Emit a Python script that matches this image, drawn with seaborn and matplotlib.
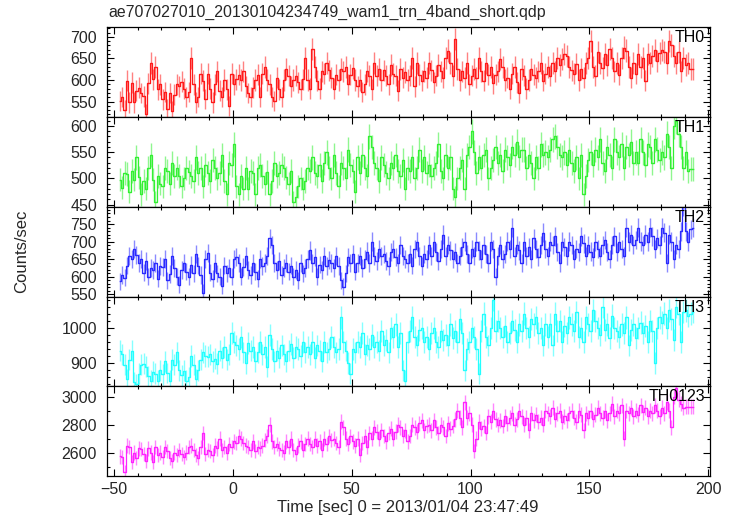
import numpy as np
import pandas as pd
import matplotlib
matplotlib.use("Agg")
import matplotlib.pyplot as plt
from matplotlib.ticker import MultipleLocator
import seaborn as sns

# ---- data (1-s bins, bin centres) ----
t_start = -47.5
n_bins = 242
time = [t_start + i for i in range(n_bins)]

th0 = [552, 560, 530, 598, 548, 594, 548, 575, 582, 570,
       562, 522, 592, 640, 602, 630, 578, 590, 555, 572,
       532, 570, 528, 566, 590, 585, 596, 580, 560, 572,
       650, 590, 548, 560, 615, 598, 556, 615, 580, 548,
       590, 620, 575, 560, 600, 578, 540, 615, 590, 602,
       612, 600, 620, 585, 570, 560, 582, 600, 612, 560,
       615, 630, 600, 590, 560, 552, 605, 578, 560, 600,
       625, 610, 585, 600, 610, 595, 578, 602, 650, 600,
       580, 672, 630, 598, 580, 620, 615, 640, 622, 605,
       580, 612, 600, 625, 620, 630, 590, 612, 628, 600,
       585, 600, 572, 590, 620, 610, 578, 640, 610, 625,
       600, 622, 610, 590, 635, 615, 610, 575, 625, 605,
       618, 600, 610, 650, 585, 640, 612, 598, 620, 605,
       640, 622, 595, 610, 635, 620, 605, 650, 668, 640,
       610, 695, 625, 600, 620, 605, 640, 590, 610, 625,
       605, 650, 620, 598, 640, 612, 630, 592, 612, 620,
       648, 630, 600, 605, 580, 615, 630, 595, 570, 625,
       610, 580, 600, 625, 612, 605, 620, 640, 598, 615,
       630, 610, 640, 620, 650, 635, 648, 660, 655, 630,
       622, 615, 638, 600, 625, 605, 640, 650, 690, 630,
       610, 665, 640, 628, 660, 635, 672, 650, 620, 640,
       612, 650, 675, 668, 630, 605, 640, 615, 660, 630,
       650, 598, 660, 640, 655, 670, 645, 662, 670, 665,
       640, 690, 680, 655, 640, 665, 620, 650, 635, 640,
       625, 625]

th1 = [498, 482, 510, 508, 475, 515, 498, 540, 502, 470,
       495, 480, 520, 545, 498, 455, 505, 490, 485, 520,
       515, 490, 530, 505, 520, 505, 485, 500, 520, 512,
       505, 495, 540, 510, 520, 485, 525, 510, 495, 535,
       520, 500, 510, 545, 495, 470, 530, 525, 565, 485,
       470, 505, 480, 520, 480, 515, 510, 470, 520, 525,
       505, 490, 512, 470, 495, 530, 505, 510, 525, 520,
       502, 490, 515, 455, 465, 485, 500, 480, 495, 520,
       515, 540, 510, 505, 525, 495, 530, 550, 520, 500,
       545, 510, 485, 530, 520, 500, 555, 525, 515, 475,
       540, 510, 545, 520, 505, 580, 560, 530, 520, 495,
       540, 525, 510, 500, 530, 520, 545, 515, 505, 535,
       480, 520, 515, 540, 500, 520, 555, 515, 540, 510,
       525, 505, 520, 530, 565, 515, 500, 545, 520, 540,
       480, 465, 500, 520, 535, 480, 545, 560, 590, 550,
       510, 540, 520, 545, 555, 500, 520, 535, 560, 530,
       545, 515, 555, 540, 525, 560, 545, 570, 540, 555,
       555, 520, 545, 530, 500, 540, 520, 565, 545, 550,
       540, 555, 575, 580, 560, 545, 540, 550, 525, 555,
       530, 515, 540, 500, 545, 470, 505, 535, 550, 525,
       555, 540, 575, 530, 515, 560, 545, 520, 575, 550,
       540, 565, 520, 560, 545, 570, 530, 550, 530, 575,
       550, 525, 565, 560, 530, 575, 555, 535, 550, 540,
       585, 560, 520, 600, 610, 585, 560, 520, 550, 515,
       518, 518]

th2 = [588, 605, 598, 632, 660, 650, 680, 662, 640, 650,
       612, 645, 600, 625, 620, 640, 595, 630, 628, 650,
       590, 608, 660, 625, 600, 578, 620, 640, 615, 600,
       635, 610, 665, 632, 605, 555, 650, 668, 612, 595,
       640, 610, 600, 575, 632, 610, 625, 600, 650, 655,
       640, 600, 628, 660, 620, 605, 640, 615, 595, 650,
       630, 640, 660, 710, 690, 640, 620, 645, 605, 625,
       640, 615, 632, 600, 620, 590, 640, 610, 625, 650,
       675, 640, 655, 600, 635, 620, 660, 630, 648, 640,
       625, 660, 630, 590, 572, 610, 655, 640, 665, 615,
       640, 660, 625, 650, 672, 640, 700, 660, 645, 680,
       660, 665, 645, 630, 670, 680, 655, 640, 690, 660,
       650, 640, 665, 632, 680, 700, 660, 630, 665, 650,
       690, 660, 700, 670, 645, 680, 720, 660, 690, 675,
       650, 670, 640, 660, 685, 700, 665, 640, 680, 660,
       700, 675, 650, 690, 665, 640, 700, 680, 600, 660,
       690, 650, 665, 700, 680, 740, 660, 690, 675, 640,
       700, 660, 685, 650, 710, 680, 655, 690, 725, 680,
       660, 700, 690, 715, 670, 640, 700, 685, 660, 700,
       690, 650, 680, 670, 715, 695, 660, 690, 672, 655,
       700, 680, 660, 690, 705, 670, 650, 690, 715, 670,
       700, 680, 660, 740, 700, 720, 690, 705, 740, 700,
       690, 720, 700, 740, 715, 680, 710, 690, 740, 725,
       640, 720, 700, 650, 690, 680, 730, 800, 730, 700,
       735, 740]

th3 = [935, 925, 895, 855, 910, 935, 845, 840, 870, 895,
       898, 890, 862, 850, 875, 870, 850, 880, 868, 905,
       872, 850, 910, 895, 930, 880, 865, 878, 850, 860,
       920, 895, 855, 880, 910, 930, 920, 918, 925, 905,
       912, 898, 935, 915, 945, 910, 925, 985, 960, 950,
       940, 975, 930, 900, 958, 935, 945, 905, 930, 960,
       925, 945, 890, 980, 940, 905, 935, 915, 950, 925,
       905, 935, 955, 915, 945, 940, 920, 960, 930, 945,
       925, 960, 915, 950, 935, 905, 960, 930, 940, 975,
       945, 930, 940, 1030, 960, 935, 900, 870, 940, 930,
       960, 945, 985, 925, 950, 940, 980, 945, 960, 935,
       990, 950, 965, 930, 1000, 975, 1010, 945, 985, 880,
       850, 960, 990, 1030, 975, 950, 995, 1000, 960, 975,
       940, 985, 1000, 960, 945, 990, 965, 980, 950, 1010,
       970, 990, 960, 1025, 985, 880, 940, 960, 1000, 975,
       940, 870, 990, 1040, 975, 950, 1000, 1080, 990, 1020,
       1000, 975, 1005, 960, 985, 1020, 995, 960, 1010, 990,
       1040, 1000, 975, 1025, 1010, 1030, 985, 1000, 950, 1010,
       975, 1010, 950, 1040, 990, 1020, 960, 1005, 985, 1030,
       1010, 990, 1045, 975, 1000, 960, 1030, 1010, 990, 1050,
       1020, 1000, 980, 1060, 995, 1010, 970, 1035, 1000, 990,
       975, 1010, 985, 1030, 950, 995, 1010, 970, 1000, 1015,
       985, 1005, 960, 1020, 990, 900, 1000, 1030, 1015, 1040,
       1000, 1050, 1025, 965, 1060, 1040, 960, 1045, 1050, 1035,
       1040, 1045]

th0123 = [2572, 2570, 2460, 2650, 2640, 2530, 2600, 2560, 2630, 2628,
          2590, 2540, 2630, 2600, 2530, 2640, 2580, 2600, 2570, 2640,
          2610, 2560, 2540, 2600, 2580, 2620, 2590, 2570, 2600, 2640,
          2650, 2620, 2580, 2560, 2640, 2740, 2590, 2620, 2610, 2580,
          2650, 2630, 2700, 2620, 2640, 2600, 2660, 2640, 2680, 2670,
          2720, 2700, 2670, 2650, 2640, 2620, 2680, 2610, 2640, 2630,
          2650, 2690, 2720, 2800, 2680, 2640, 2660, 2630, 2620, 2600,
          2680, 2640, 2700, 2620, 2590, 2650, 2680, 2620, 2660, 2700,
          2660, 2640, 2700, 2650, 2680, 2620, 2700, 2660, 2720, 2690,
          2700, 2670, 2640, 2820, 2780, 2700, 2660, 2720, 2680, 2650,
          2700, 2580, 2670, 2720, 2640, 2740, 2700, 2780, 2750, 2700,
          2760, 2720, 2680, 2740, 2770, 2700, 2750, 2800, 2780, 2720,
          2760, 2680, 2720, 2800, 2780, 2750, 2810, 2830, 2760, 2790,
          2800, 2760, 2830, 2780, 2740, 2800, 2780, 2720, 2810, 2770,
          2790, 2840, 2900, 2850, 2780, 2960, 2850, 2880, 2800, 2610,
          2700, 2820, 2770, 2790, 2740, 2860, 2820, 2900, 2840, 2800,
          2830, 2790, 2860, 2810, 2850, 2880, 2800, 2840, 2900, 2860,
          2800, 2850, 2760, 2880, 2830, 2870, 2820, 2850, 2800, 2900,
          2880, 2860, 2920, 2840, 2880, 2900, 2820, 2860, 2830, 2880,
          2900, 2850, 2820, 2900, 2870, 2760, 2880, 2850, 2900, 2840,
          2870, 2920, 2880, 2850, 2900, 2830, 2880, 2950, 2860, 2900,
          2880, 2940, 2700, 2900, 2880, 2920, 2860, 2900, 2870, 2940,
          2890, 2920, 2860, 2900, 2880, 2940, 2900, 2860, 2920, 2880,
          2960, 2900, 2780, 3000, 3060, 2980, 2950, 2920, 2930, 2930,
          2930, 2930]

bands = ["TH0", "TH1", "TH2", "TH3", "TH0123"]
series = [th0, th1, th2, th3, th0123]
colors = ["#ff1a1a", "#33f033", "#2a2aff", "#22ffff", "#ff22ff"]
ylims = [(514, 722), (446, 617), (544, 799), (834, 1089), (2432, 3075)]
major = [50, 50, 50, 100, 200]
minor = [10, 10, 10, 20, 100]

title = "ae707027010_20130104234749_wam1_trn_4band_short.qdp"
xlabel = "Time [sec] 0 = 2013/01/04 23:47:49"
ylabel = "Counts/sec"

# ---- style ----
sns.set_style("ticks")
plt.rcParams["font.family"] = ["Liberation Sans", "DejaVu Sans"]
plt.rcParams["axes.linewidth"] = 0.9

fig = plt.figure(figsize=(7.34, 5.16), dpi=100)
axes = fig.subplots(5, 1, sharex=True)
fig.subplots_adjust(left=0.1454, right=0.967, top=0.947, bottom=0.0775, hspace=0)

for ax, name, vals, col, yl, mj, mn in zip(axes, bands, series, colors, ylims, major, minor):
    df = pd.DataFrame({"time": time, "rate": vals})
    err = np.sqrt(df["rate"].to_numpy(dtype=float))
    ax.errorbar(df["time"], df["rate"], yerr=err, xerr=0.5, fmt="none",
                ecolor=col, elinewidth=1.0, alpha=0.55, capsize=0)
    sns.lineplot(data=df, x="time", y="rate", ax=ax, color=col, linewidth=0.9,
                 drawstyle="steps-mid", estimator=None, legend=False)
    ax.set_ylim(*yl)
    ax.set_xlim(-53, 200.6)
    ax.yaxis.set_major_locator(MultipleLocator(mj))
    ax.yaxis.set_minor_locator(MultipleLocator(mn))
    ax.xaxis.set_major_locator(MultipleLocator(50))
    ax.xaxis.set_minor_locator(MultipleLocator(10))
    ax.tick_params(which="both", direction="in", top=True, right=True,
                   labelsize=11.5, width=0.8, color="black")
    ax.tick_params(which="major", length=5, pad=4)
    ax.tick_params(which="minor", length=2.5)
    ax.tick_params(axis="y", pad=7)
    ax.set_xlabel("")
    ax.set_ylabel("")
    ax.text(0.992, 0.965, name, transform=ax.transAxes, ha="right", va="top",
            fontsize=11.5, color="black")
    for s in ax.spines.values():
        s.set_color("black")

fig.text(108 / 734, 1 - 12 / 516, title, ha="left", va="center", fontsize=11.4)
fig.text(0.556, 0.017, xlabel, ha="center", va="center", fontsize=12)
fig.text(0.030, 0.513, ylabel, ha="center", va="center", rotation=90, fontsize=12)

fig.savefig("out.png", dpi=100)
